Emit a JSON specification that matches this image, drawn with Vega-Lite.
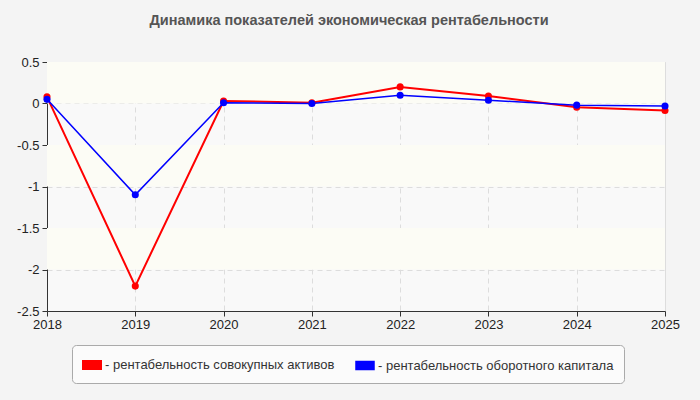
{
  "$schema": "https://vega.github.io/schema/vega-lite/v6.json",
  "width": 618,
  "height": 249,
  "autosize": {"type": "none"},
  "padding": {"left": 47, "top": 62, "right": 35, "bottom": 89},
  "background": "#f4f4f4",
  "title": {
    "text": "Динамика показателей экономическая рентабельности",
    "font": "Liberation Sans",
    "fontSize": 14.5,
    "fontWeight": "bold",
    "color": "#555555",
    "anchor": "middle",
    "dx": -7,
    "offset": 17,
    "baseline": "alphabetic"
  },
  "config": {
    "view": {"fill": "#f9f9f9", "stroke": "#dddddd"},
    "font": "Liberation Sans"
  },
  "layer": [
    {
      "data": {"values": [
        {"lo": 0, "hi": 0.5},
        {"lo": -1, "hi": -0.5},
        {"lo": -2, "hi": -1.5}
      ]},
      "mark": {"type": "rect", "fill": "#fcfcf5"},
      "encoding": {
        "y": {"field": "lo", "type": "quantitative", "scale": {"domain": [-2.5, 0.5]}},
        "y2": {"field": "hi"}
      }
    },
    {
      "data": {"values": [
        {"year": 2018, "series": "рентабельность совокупных активов", "value": 0.08},
        {"year": 2019, "series": "рентабельность совокупных активов", "value": -2.2},
        {"year": 2020, "series": "рентабельность совокупных активов", "value": 0.03},
        {"year": 2021, "series": "рентабельность совокупных активов", "value": 0.01},
        {"year": 2022, "series": "рентабельность совокупных активов", "value": 0.2},
        {"year": 2023, "series": "рентабельность совокупных активов", "value": 0.09},
        {"year": 2024, "series": "рентабельность совокупных активов", "value": -0.045},
        {"year": 2025, "series": "рентабельность совокупных активов", "value": -0.085},
        {"year": 2018, "series": "рентабельность оборотного капитала", "value": 0.05},
        {"year": 2019, "series": "рентабельность оборотного капитала", "value": -1.1},
        {"year": 2020, "series": "рентабельность оборотного капитала", "value": 0.01},
        {"year": 2021, "series": "рентабельность оборотного капитала", "value": 0.0},
        {"year": 2022, "series": "рентабельность оборотного капитала", "value": 0.1},
        {"year": 2023, "series": "рентабельность оборотного капитала", "value": 0.04},
        {"year": 2024, "series": "рентабельность оборотного капитала", "value": -0.02},
        {"year": 2025, "series": "рентабельность оборотного капитала", "value": -0.03}
      ]},
      "encoding": {
        "x": {
          "field": "year", "type": "quantitative",
          "scale": {"domain": [2018, 2025], "nice": false, "zero": false},
          "axis": {
            "title": null,
            "values": [2018, 2019, 2020, 2021, 2022, 2023, 2024, 2025],
            "format": "d",
            "labelFont": "Liberation Sans",
            "labelFontSize": 13,
            "labelColor": "#222222",
            "labelPadding": 2,
            "domainColor": "#333333",
            "tickColor": "#333333",
            "tickSize": 5,
            "grid": true,
            "gridColor": "#dddddd",
            "gridDash": [5, 4],
            "labelFlush": false
          }
        },
        "y": {
          "field": "value", "type": "quantitative",
          "scale": {"domain": [-2.5, 0.5], "nice": false, "zero": false},
          "axis": {
            "title": null,
            "values": [-2.5, -2, -1.5, -1, -0.5, 0, 0.5],
            "labelExpr": "toString(datum.value)",
            "labelFont": "Liberation Sans",
            "labelFontSize": 13,
            "labelColor": "#222222",
            "labelPadding": 3,
            "domainColor": "#333333",
            "tickColor": "#333333",
            "tickSize": 5,
            "grid": true,
            "gridColor": "#dddddd",
            "gridDash": [5, 4]
          }
        },
        "color": {
          "field": "series", "type": "nominal",
          "scale": {
            "domain": ["рентабельность совокупных активов", "рентабельность оборотного капитала"],
            "range": ["#ff0000", "#0000ff"]
          },
          "legend": {
            "title": null,
            "orient": "none",
            "direction": "horizontal",
            "columns": 2,
            "legendX": 25,
            "legendY": 283,
            "padding": 10,
            "columnPadding": 18,
            "strokeColor": "#aaaaaa",
            "fillColor": "#fbfbfb",
            "cornerRadius": 4,
            "labelExpr": "'- ' + datum.label",
            "labelFont": "Liberation Sans",
            "labelFontSize": 13,
            "labelColor": "#333333",
            "labelOffset": 3,
            "labelLimit": 400,
            "symbolType": "M-1,-0.44H1V0.44H-1Z",
            "symbolSize": 324,
            "symbolStrokeColor": "#999999",
            "symbolStrokeWidth": 1,
            "symbolOpacity": 1
          }
        }
      },
      "layer": [
        {
          "mark": {"type": "line"},
          "encoding": {
            "strokeWidth": {
              "field": "series", "type": "nominal",
              "scale": {
                "domain": ["рентабельность совокупных активов", "рентабельность оборотного капитала"],
                "range": [2, 1.5]
              },
              "legend": null
            }
          }
        },
        {
          "mark": {"type": "point", "filled": true, "size": 50, "opacity": 1}
        }
      ]
    }
  ]
}
